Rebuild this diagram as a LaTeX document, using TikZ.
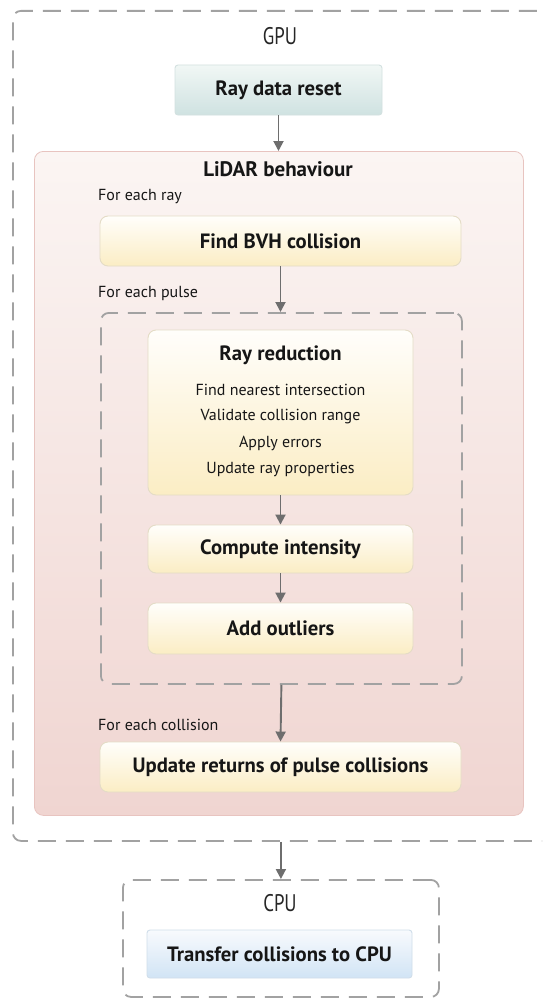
\documentclass[tikz,border=0pt]{standalone}
\usepackage{fontspec}
\setmainfont{PT Sans}
\usetikzlibrary{arrows.meta,calc}
\definecolor{dashgray}{HTML}{A2A2A2}
\definecolor{arrgray}{HTML}{6E6E6E}
\definecolor{txt}{HTML}{161616}
\definecolor{lidtop}{HTML}{FBF5F3}
\definecolor{lidbot}{HTML}{F0D5D1}
\definecolor{lidedge}{HTML}{E8C4C0}
\definecolor{ytop}{HTML}{FFFEFB}
\definecolor{ybot}{HTML}{FBEDC4}
\definecolor{yedge}{HTML}{E4DCC6}
\definecolor{ttop}{HTML}{F1F7F5}
\definecolor{tbot}{HTML}{CFE2E1}
\definecolor{tedge}{HTML}{D3E1E0}
\definecolor{btop}{HTML}{F8FAFD}
\definecolor{bbot}{HTML}{D1E4F5}
\definecolor{bedge}{HTML}{D0DEEA}
\tikzset{
  container/.style={draw=dashgray, line width=1.8pt, dash pattern=on 18pt off 10pt,
    rounded corners=8pt, anchor=north west, inner sep=0pt},
  lidarbox/.style={draw=lidedge, line width=0.8pt, top color=lidtop, bottom color=lidbot,
    rounded corners=9pt, anchor=north west, inner sep=0pt},
  ybox/.style={draw=yedge, line width=0.9pt, top color=ytop, bottom color=ybot,
    rounded corners=8pt, inner sep=0pt, text=txt, font=\fontsize{20.7}{22}\selectfont\bfseries},
  tealbox/.style={ybox, draw=tedge, top color=ttop, bottom color=tbot, rounded corners=3pt},
  bluebox/.style={ybox, draw=bedge, top color=btop, bottom color=bbot, rounded corners=3pt},
  title/.style={text=txt, inner sep=0pt, font=\fontsize{21}{22}\selectfont\bfseries},
  plain/.style={text=txt, inner sep=0pt, font=\fontsize{16}{18}\selectfont},
  cond/.style={text=black!85, inner sep=0pt, font=\fontsize{24}{26}\selectfont},
  arr/.style={draw=arrgray, line width=1.9pt, -{Triangle[length=10pt,width=10pt]}}
}
\begin{document}
\begin{tikzpicture}[x=1pt,y=-1pt]
\clip (0,0) rectangle (542,998);
\fill[white] (0,0) rectangle (542,998);
% containers
\node[container, minimum width=560pt, minimum height=830pt] (gpu) at (12,10) {};
\node[cond] (gputxt) at (280,36) {\scalebox{0.78}[1]{GPU}};
\node[tealbox, minimum width=207pt, minimum height=50pt] (rdr) at (278.5,90) {Ray data reset};
\node[lidarbox, minimum width=489pt, minimum height=664pt] (lidar) at (34,151) {};
\node[title] (lidtxt) at (278,169) {LiDAR behaviour};
\node[plain, anchor=west] (forray) at (98,197) {For each ray};
\node[ybox, minimum width=361pt, minimum height=50pt] (bvh) at (280.5,241) {Find BVH collision};
\node[plain, anchor=west] (forpulse) at (98,293) {For each pulse};
\node[container, minimum width=361pt, minimum height=371pt] (pulse) at (100,312) {};
\node[ybox, minimum width=265pt, minimum height=165pt] (rr) at (280.5,412.5) {};
\node[title, font=\fontsize{20.7}{22}\selectfont\bfseries] (rrt) at (280.5,355) {Ray reduction};
\node[plain] (rr1) at (280.5,390) {Find nearest intersection};
\node[plain] (rr2) at (280.5,417) {Validate collision range};
\node[plain] (rr3) at (280.5,443) {Apply errors};
\node[plain] (rr4) at (280.5,469) {Update ray properties};
\node[ybox, minimum width=265pt, minimum height=48pt] (ci) at (280.5,549) {Compute intensity};
\node[ybox, minimum width=265pt, minimum height=51pt] (ao) at (280.5,628.5) {Add outliers};
\node[plain, anchor=west] (forcol) at (98,725) {For each collision};
\node[ybox, minimum width=361pt, minimum height=50pt] (upd) at (280.5,767) {Update returns of pulse collisions};
\node[container, minimum width=316pt, minimum height=117pt] (cpu) at (122,879) {};
\node[cond] (cputxt) at (280,903) {\scalebox{0.78}[1]{CPU}};
\node[bluebox, minimum width=265pt, minimum height=48pt] (tr) at (279.5,954) {Transfer collisions to CPU};
% arrows
\draw[arr] (rdr.south) -- (rdr.south |- lidar.north);
\draw[arr] (bvh.south) -- (bvh.south |- pulse.north);
\draw[arr] (rr.south) -- (ci.north);
\draw[arr] (ci.south) -- (ao.north);
\draw[arr] (pulse.south) -- (upd.north);
\draw[arr] (cpu.north |- gpu.south) -- (cpu.north);
\end{tikzpicture}
\end{document}
